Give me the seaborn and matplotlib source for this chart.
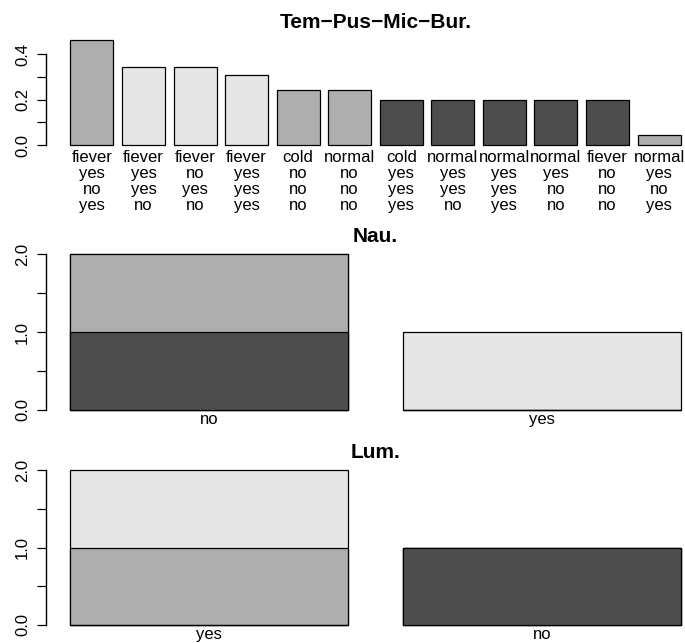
import matplotlib
matplotlib.use("Agg")
import matplotlib.pyplot as plt
import seaborn as sns
import pandas as pd

# R gray.colors(3) style palette
dark, mid, light = "#4D4D4D", "#AEAEAE", "#E6E6E6"

# --- data ---
combo_labels = [
    "fiever\nyes\nno\nyes", "fiever\nyes\nyes\nno", "fiever\nno\nyes\nno",
    "fiever\nyes\nyes\nyes", "cold\nno\nno\nno", "normal\nno\nno\nno",
    "cold\nyes\nyes\nyes", "normal\nyes\nyes\nno", "normal\nyes\nyes\nyes",
    "normal\nyes\nno\nno", "fiever\nno\nno\nno", "normal\nyes\nno\nyes",
]
combo_values = [0.46, 0.345, 0.345, 0.308, 0.244, 0.244,
                0.2, 0.2, 0.2, 0.2, 0.2, 0.046]
combo_class = ["mid", "light", "light", "light", "mid", "mid",
               "dark", "dark", "dark", "dark", "dark", "mid"]

nau_levels = ["no", "yes"]
nau_dark = [1, 0]
nau_mid = [1, 0]
nau_light = [0, 1]

lum_levels = ["yes", "no"]
lum_dark = [0, 1]
lum_mid = [1, 0]
lum_light = [1, 0]

class_colors = {"dark": dark, "mid": mid, "light": light}

sns.set_style("white")
plt.rcParams["font.family"] = ["Liberation Sans", "DejaVu Sans"]
plt.rcParams.update({"text.color": "black", "xtick.color": "black",
                     "ytick.color": "black", "axes.labelcolor": "black"})

W, H = 685, 643
fig = plt.figure(figsize=(W / 100, H / 100), dpi=100)

BAR_W = 1 / 1.2  # R barplot: width 1, space 0.2


def px_axes(left, right, top, bottom):
    return fig.add_axes([left / W, 1 - bottom / H, (right - left) / W, (bottom - top) / H])


def style_axis(ax, ymax, ticks, labels, title, tpad, xpad):
    sns.despine(ax=ax, top=True, right=True, bottom=True)
    ax.spines["left"].set_bounds(ticks[0], ticks[-1])
    ax.spines["left"].set_linewidth(1)
    ax.spines["left"].set_color("black")
    ax.set_ylim(-0.04 * ymax, 1.04 * ymax)
    ax.set_yticks(ticks)
    ax.set_yticklabels(labels)
    ax.tick_params(axis="y", left=True, length=6.5, width=0.9, color="black",
                   labelsize=12, labelrotation=90, pad=5, labelcolor="black")
    for t in ax.get_yticklabels():
        t.set_va("center")
    ax.tick_params(axis="x", bottom=False, length=0, labelsize=12, pad=xpad,
                   labelcolor="black")
    for t in ax.get_xticklabels():
        t.set_linespacing(1.08)
    ax.set_xlabel("")
    ax.set_ylabel("")
    ax.set_title(title, fontsize=15, fontweight="bold", pad=tpad, color="black")


# --- top panel: Tem-Pus-Mic-Bur. ---
ax1 = px_axes(46, 705, 36.2, 149.5)
df1 = pd.DataFrame({"combo": combo_labels, "p": combo_values})
sns.barplot(data=df1, x="combo", y="p", hue="combo",
            palette=[class_colors[c] for c in combo_class], legend=False,
            width=BAR_W, saturation=1, edgecolor="black", linewidth=0.9, ax=ax1)
edge = 0.568 / 1.2
ax1.set_xlim(-BAR_W / 2 - edge, len(combo_labels) - 1 + BAR_W / 2 + edge)
style_axis(ax1, max(combo_values), [0, 0.1, 0.2, 0.3, 0.4],
           ["0.0", "", "0.2", "", "0.4"], "Tem\u2212Pus\u2212Mic\u2212Bur.", 5.9, 0.2)


def stacked(ax, levels, layers):
    # draw cumulative heights top-down so lower segments cover upper ones
    cum = []
    run = [0] * len(levels)
    for vals, col in layers:
        run = [a + b for a, b in zip(run, vals)]
        cum.append((list(run), col))
    for vals, col in reversed(cum):
        d = pd.DataFrame({"lvl": levels, "n": vals})
        sns.barplot(data=d, x="lvl", y="n", order=levels, color=col, width=BAR_W,
                    saturation=1, edgecolor="black", linewidth=0.9, ax=ax)
    ext = 0.088 / 1.2
    ax.set_xlim(-BAR_W / 2 - ext, len(levels) - 1 + BAR_W / 2 + ext)
    return max(cum[-1][0])


ax2 = px_axes(46, 705, 248.1, 416.2)
m2 = stacked(ax2, nau_levels, [(nau_dark, dark), (nau_mid, mid), (nau_light, light)])
style_axis(ax2, m2, [0, 0.5, 1.0, 1.5, 2.0], ["0.0", "", "1.0", "", "2.0"],
           "Nau.", 4.2, -2.8)

ax3 = px_axes(46, 705, 463.8, 631.2)
m3 = stacked(ax3, lum_levels, [(lum_dark, dark), (lum_mid, mid), (lum_light, light)])
style_axis(ax3, m3, [0, 0.5, 1.0, 1.5, 2.0], ["0.0", "", "1.0", "", "2.0"],
           "Lum.", 4.4, -2.8)

fig.savefig("out.png", dpi=100)
